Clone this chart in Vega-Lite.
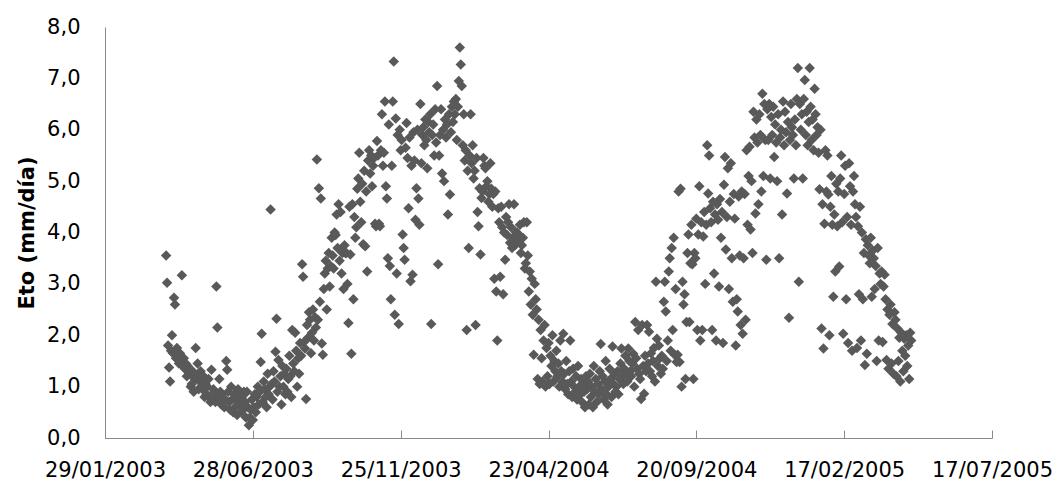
{
"$schema": "https://vega.github.io/schema/vega-lite/v6.json",
"width": 887, "height": 411,
"autosize": {"type": "none"},
"padding": {"left": 105, "top": 27, "right": 66, "bottom": 47},
"background": "white",
"config": {"view": {"stroke": null}, "font": "DejaVu Sans"},
"data": {"values": [
{"d":"2003-04-01","v":3.55},{"d":"2003-04-02","v":3.02},{"d":"2003-04-03","v":1.8},{"d":"2003-04-04","v":1.37},{"d":"2003-04-05","v":1.1},{"d":"2003-04-06","v":1.7},{"d":"2003-04-07","v":2.0},{"d":"2003-04-08","v":1.65},{"d":"2003-04-09","v":2.73},{"d":"2003-04-10","v":2.6},{"d":"2003-04-11","v":1.55},{"d":"2003-04-12","v":1.75},{"d":"2003-04-13","v":1.6},{"d":"2003-04-14","v":1.45},{"d":"2003-04-15","v":1.65},{"d":"2003-04-16","v":1.5},{"d":"2003-04-17","v":3.17},{"d":"2003-04-18","v":1.4},{"d":"2003-04-19","v":1.55},{"d":"2003-04-20","v":1.35},{"d":"2003-04-21","v":1.45},{"d":"2003-04-22","v":1.2},{"d":"2003-04-23","v":1.4},{"d":"2003-04-24","v":1.3},{"d":"2003-04-25","v":1.25},{"d":"2003-04-26","v":1.0},{"d":"2003-04-27","v":1.05},{"d":"2003-04-28","v":1.3},{"d":"2003-04-29","v":0.9},{"d":"2003-04-30","v":1.15},
{"d":"2003-05-01","v":1.75},{"d":"2003-05-02","v":1.2},{"d":"2003-05-03","v":1.45},{"d":"2003-05-04","v":0.95},{"d":"2003-05-05","v":1.1},{"d":"2003-05-06","v":1.3},{"d":"2003-05-07","v":1.0},{"d":"2003-05-08","v":0.95},{"d":"2003-05-09","v":1.2},{"d":"2003-05-10","v":0.8},{"d":"2003-05-11","v":1.05},{"d":"2003-05-12","v":0.85},{"d":"2003-05-13","v":1.0},{"d":"2003-05-14","v":1.15},{"d":"2003-05-15","v":0.8},{"d":"2003-05-16","v":0.7},{"d":"2003-05-17","v":1.33},{"d":"2003-05-18","v":0.75},{"d":"2003-05-19","v":0.95},{"d":"2003-05-20","v":0.9},{"d":"2003-05-21","v":0.7},{"d":"2003-05-22","v":2.95},{"d":"2003-05-23","v":2.15},{"d":"2003-05-24","v":0.8},{"d":"2003-05-25","v":1.15},{"d":"2003-05-26","v":0.9},{"d":"2003-05-27","v":0.65},{"d":"2003-05-28","v":0.85},{"d":"2003-05-29","v":0.7},{"d":"2003-05-30","v":0.6},{"d":"2003-05-31","v":0.75},
{"d":"2003-06-01","v":1.5},{"d":"2003-06-02","v":1.33},{"d":"2003-06-03","v":0.9},{"d":"2003-06-04","v":0.7},{"d":"2003-06-05","v":0.55},{"d":"2003-06-06","v":1.0},{"d":"2003-06-07","v":0.75},{"d":"2003-06-08","v":0.5},{"d":"2003-06-09","v":0.85},{"d":"2003-06-10","v":0.6},{"d":"2003-06-11","v":0.75},{"d":"2003-06-12","v":0.45},{"d":"2003-06-13","v":0.95},{"d":"2003-06-14","v":0.65},{"d":"2003-06-15","v":0.8},{"d":"2003-06-16","v":0.5},{"d":"2003-06-17","v":0.8},{"d":"2003-06-18","v":0.55},{"d":"2003-06-19","v":0.9},{"d":"2003-06-20","v":0.7},{"d":"2003-06-21","v":0.4},{"d":"2003-06-22","v":0.9},{"d":"2003-06-23","v":0.6},{"d":"2003-06-24","v":0.25},{"d":"2003-06-25","v":0.4},{"d":"2003-06-26","v":0.55},{"d":"2003-06-27","v":0.75},{"d":"2003-06-28","v":0.35},{"d":"2003-06-29","v":0.6},{"d":"2003-06-30","v":0.85},
{"d":"2003-07-01","v":0.5},{"d":"2003-07-02","v":0.8},{"d":"2003-07-03","v":1.0},{"d":"2003-07-04","v":0.65},{"d":"2003-07-05","v":0.9},{"d":"2003-07-06","v":1.48},{"d":"2003-07-07","v":2.03},{"d":"2003-07-08","v":0.7},{"d":"2003-07-09","v":1.1},{"d":"2003-07-10","v":0.95},{"d":"2003-07-11","v":0.8},{"d":"2003-07-12","v":0.6},{"d":"2003-07-13","v":1.25},{"d":"2003-07-14","v":0.85},{"d":"2003-07-15","v":1.0},{"d":"2003-07-16","v":4.45},{"d":"2003-07-17","v":1.05},{"d":"2003-07-18","v":0.75},{"d":"2003-07-19","v":1.3},{"d":"2003-07-20","v":1.1},{"d":"2003-07-21","v":1.68},{"d":"2003-07-22","v":2.32},{"d":"2003-07-23","v":0.9},{"d":"2003-07-24","v":1.52},{"d":"2003-07-25","v":1.0},{"d":"2003-07-26","v":1.2},{"d":"2003-07-27","v":0.65},{"d":"2003-07-28","v":1.4},{"d":"2003-07-29","v":1.0},{"d":"2003-07-30","v":1.25},{"d":"2003-07-31","v":0.85},
{"d":"2003-08-01","v":1.35},{"d":"2003-08-02","v":0.9},{"d":"2003-08-03","v":1.15},{"d":"2003-08-04","v":1.6},{"d":"2003-08-05","v":1.2},{"d":"2003-08-06","v":0.8},{"d":"2003-08-07","v":2.1},{"d":"2003-08-08","v":1.45},{"d":"2003-08-09","v":1.3},{"d":"2003-08-10","v":2.05},{"d":"2003-08-11","v":1.7},{"d":"2003-08-12","v":1.0},{"d":"2003-08-13","v":1.55},{"d":"2003-08-14","v":1.25},{"d":"2003-08-15","v":1.85},{"d":"2003-08-16","v":1.6},{"d":"2003-08-17","v":3.38},{"d":"2003-08-18","v":3.14},{"d":"2003-08-19","v":1.87},{"d":"2003-08-20","v":1.74},{"d":"2003-08-21","v":0.76},{"d":"2003-08-22","v":2.2},{"d":"2003-08-23","v":1.95},{"d":"2003-08-24","v":2.45},{"d":"2003-08-25","v":2.3},{"d":"2003-08-26","v":1.65},{"d":"2003-08-27","v":2.05},{"d":"2003-08-28","v":2.5},{"d":"2003-08-29","v":1.9},{"d":"2003-08-30","v":2.35},{"d":"2003-08-31","v":2.15},
{"d":"2003-09-01","v":5.42},{"d":"2003-09-02","v":2.3},{"d":"2003-09-03","v":4.86},{"d":"2003-09-04","v":2.65},{"d":"2003-09-05","v":4.66},{"d":"2003-09-06","v":1.84},{"d":"2003-09-07","v":1.62},{"d":"2003-09-08","v":2.9},{"d":"2003-09-09","v":3.2},{"d":"2003-09-10","v":3.45},{"d":"2003-09-11","v":2.5},{"d":"2003-09-12","v":3.3},{"d":"2003-09-13","v":3.6},{"d":"2003-09-14","v":2.95},{"d":"2003-09-15","v":3.35},{"d":"2003-09-16","v":3.9},{"d":"2003-09-17","v":3.55},{"d":"2003-09-18","v":3.3},{"d":"2003-09-19","v":4.0},{"d":"2003-09-20","v":3.95},{"d":"2003-09-21","v":4.35},{"d":"2003-09-22","v":3.7},{"d":"2003-09-23","v":4.55},{"d":"2003-09-24","v":3.45},{"d":"2003-09-25","v":4.4},{"d":"2003-09-26","v":3.2},{"d":"2003-09-27","v":3.6},{"d":"2003-09-28","v":2.9},{"d":"2003-09-29","v":3.75},{"d":"2003-09-30","v":3.6},
{"d":"2003-10-01","v":3.6},{"d":"2003-10-02","v":3.0},{"d":"2003-10-03","v":2.24},{"d":"2003-10-04","v":4.5},{"d":"2003-10-05","v":3.57},{"d":"2003-10-06","v":1.64},{"d":"2003-10-07","v":4.55},{"d":"2003-10-08","v":2.7},{"d":"2003-10-09","v":4.3},{"d":"2003-10-10","v":3.9},{"d":"2003-10-11","v":4.1},{"d":"2003-10-12","v":4.85},{"d":"2003-10-13","v":5.05},{"d":"2003-10-14","v":5.55},{"d":"2003-10-15","v":4.6},{"d":"2003-10-16","v":4.2},{"d":"2003-10-17","v":4.95},{"d":"2003-10-18","v":3.77},{"d":"2003-10-19","v":5.2},{"d":"2003-10-20","v":3.73},{"d":"2003-10-21","v":4.8},{"d":"2003-10-22","v":3.24},{"d":"2003-10-23","v":5.4},{"d":"2003-10-24","v":5.6},{"d":"2003-10-25","v":5.15},{"d":"2003-10-26","v":5.5},{"d":"2003-10-27","v":4.9},{"d":"2003-10-28","v":5.3},{"d":"2003-10-29","v":5.45},{"d":"2003-10-30","v":4.17},{"d":"2003-10-31","v":4.12},
{"d":"2003-11-01","v":5.78},{"d":"2003-11-02","v":5.5},{"d":"2003-11-03","v":4.17},{"d":"2003-11-04","v":4.12},{"d":"2003-11-05","v":5.6},{"d":"2003-11-06","v":6.3},{"d":"2003-11-07","v":5.3},{"d":"2003-11-08","v":5.55},{"d":"2003-11-09","v":6.55},{"d":"2003-11-10","v":4.9},{"d":"2003-11-11","v":4.66},{"d":"2003-11-12","v":3.5},{"d":"2003-11-13","v":6.1},{"d":"2003-11-14","v":3.35},{"d":"2003-11-15","v":2.7},{"d":"2003-11-16","v":5.3},{"d":"2003-11-17","v":6.55},{"d":"2003-11-18","v":7.33},{"d":"2003-11-19","v":2.4},{"d":"2003-11-20","v":6.22},{"d":"2003-11-21","v":3.2},{"d":"2003-11-22","v":5.9},{"d":"2003-11-23","v":2.22},{"d":"2003-11-24","v":6.0},{"d":"2003-11-25","v":5.6},{"d":"2003-11-26","v":5.8},{"d":"2003-11-27","v":3.96},{"d":"2003-11-28","v":3.7},{"d":"2003-11-29","v":3.47},{"d":"2003-11-30","v":5.65},
{"d":"2003-12-01","v":6.13},{"d":"2003-12-02","v":5.45},{"d":"2003-12-03","v":4.47},{"d":"2003-12-04","v":5.85},{"d":"2003-12-05","v":3.05},{"d":"2003-12-06","v":5.3},{"d":"2003-12-07","v":3.18},{"d":"2003-12-08","v":5.95},{"d":"2003-12-09","v":5.4},{"d":"2003-12-10","v":4.25},{"d":"2003-12-11","v":4.86},{"d":"2003-12-12","v":6.0},{"d":"2003-12-13","v":4.66},{"d":"2003-12-14","v":4.15},{"d":"2003-12-15","v":6.5},{"d":"2003-12-16","v":5.35},{"d":"2003-12-17","v":5.9},{"d":"2003-12-18","v":6.05},{"d":"2003-12-19","v":5.7},{"d":"2003-12-20","v":6.2},{"d":"2003-12-21","v":5.8},{"d":"2003-12-22","v":5.25},{"d":"2003-12-23","v":6.15},{"d":"2003-12-24","v":5.95},{"d":"2003-12-25","v":6.3},{"d":"2003-12-26","v":2.22},{"d":"2003-12-27","v":5.9},{"d":"2003-12-28","v":6.1},{"d":"2003-12-29","v":5.5},{"d":"2003-12-30","v":6.4},{"d":"2003-12-31","v":5.75},
{"d":"2004-01-01","v":6.85},{"d":"2004-01-02","v":3.38},{"d":"2004-01-03","v":5.5},{"d":"2004-01-04","v":5.9},{"d":"2004-01-05","v":6.4},{"d":"2004-01-06","v":5.15},{"d":"2004-01-07","v":6.0},{"d":"2004-01-08","v":5.0},{"d":"2004-01-09","v":6.2},{"d":"2004-01-10","v":5.85},{"d":"2004-01-11","v":6.1},{"d":"2004-01-12","v":4.35},{"d":"2004-01-13","v":6.3},{"d":"2004-01-14","v":4.74},{"d":"2004-01-15","v":5.95},{"d":"2004-01-16","v":6.45},{"d":"2004-01-17","v":6.15},{"d":"2004-01-18","v":6.55},{"d":"2004-01-19","v":6.3},{"d":"2004-01-20","v":6.6},{"d":"2004-01-21","v":5.8},{"d":"2004-01-22","v":6.45},{"d":"2004-01-23","v":6.95},{"d":"2004-01-24","v":7.6},{"d":"2004-01-25","v":7.27},{"d":"2004-01-26","v":6.85},{"d":"2004-01-27","v":5.7},{"d":"2004-01-28","v":6.3},{"d":"2004-01-29","v":5.4},{"d":"2004-01-30","v":5.6},{"d":"2004-01-31","v":2.1},
{"d":"2004-02-01","v":5.2},{"d":"2004-02-02","v":3.7},{"d":"2004-02-03","v":5.5},{"d":"2004-02-04","v":6.3},{"d":"2004-02-05","v":5.35},{"d":"2004-02-06","v":5.7},{"d":"2004-02-07","v":5.05},{"d":"2004-02-08","v":5.2},{"d":"2004-02-09","v":2.2},{"d":"2004-02-10","v":5.45},{"d":"2004-02-11","v":4.4},{"d":"2004-02-12","v":4.12},{"d":"2004-02-13","v":4.86},{"d":"2004-02-14","v":3.57},{"d":"2004-02-15","v":4.67},{"d":"2004-02-16","v":4.8},{"d":"2004-02-17","v":5.45},{"d":"2004-02-18","v":5.3},{"d":"2004-02-19","v":5.25},{"d":"2004-02-20","v":4.9},{"d":"2004-02-21","v":5.0},{"d":"2004-02-22","v":4.6},{"d":"2004-02-23","v":4.75},{"d":"2004-02-24","v":5.35},{"d":"2004-02-25","v":4.85},{"d":"2004-02-26","v":4.5},{"d":"2004-02-27","v":4.75},{"d":"2004-02-28","v":3.1},{"d":"2004-02-29","v":4.8},
{"d":"2004-03-01","v":2.85},{"d":"2004-03-02","v":1.9},{"d":"2004-03-03","v":4.47},{"d":"2004-03-04","v":4.2},{"d":"2004-03-05","v":3.14},{"d":"2004-03-06","v":4.5},{"d":"2004-03-07","v":4.1},{"d":"2004-03-08","v":2.8},{"d":"2004-03-09","v":4.0},{"d":"2004-03-10","v":3.47},{"d":"2004-03-11","v":4.3},{"d":"2004-03-12","v":3.95},{"d":"2004-03-13","v":4.2},{"d":"2004-03-14","v":4.55},{"d":"2004-03-15","v":3.8},{"d":"2004-03-16","v":4.1},{"d":"2004-03-17","v":3.7},{"d":"2004-03-18","v":3.9},{"d":"2004-03-19","v":4.55},{"d":"2004-03-20","v":3.75},{"d":"2004-03-21","v":4.0},{"d":"2004-03-22","v":4.0},{"d":"2004-03-23","v":3.85},{"d":"2004-03-24","v":3.95},{"d":"2004-03-25","v":4.15},{"d":"2004-03-26","v":3.6},{"d":"2004-03-27","v":3.75},{"d":"2004-03-28","v":3.9},{"d":"2004-03-29","v":4.2},{"d":"2004-03-30","v":3.3},{"d":"2004-03-31","v":3.4},
{"d":"2004-04-01","v":4.2},{"d":"2004-04-02","v":3.55},{"d":"2004-04-03","v":2.85},{"d":"2004-04-04","v":3.24},{"d":"2004-04-05","v":2.6},{"d":"2004-04-06","v":3.1},{"d":"2004-04-07","v":2.4},{"d":"2004-04-08","v":1.62},{"d":"2004-04-09","v":3.0},{"d":"2004-04-10","v":2.7},{"d":"2004-04-11","v":2.5},{"d":"2004-04-12","v":1.15},{"d":"2004-04-13","v":2.3},{"d":"2004-04-14","v":1.05},{"d":"2004-04-15","v":2.1},{"d":"2004-04-16","v":1.55},{"d":"2004-04-17","v":1.1},{"d":"2004-04-18","v":1.9},{"d":"2004-04-19","v":2.2},{"d":"2004-04-20","v":1.0},{"d":"2004-04-21","v":1.75},{"d":"2004-04-22","v":1.2},{"d":"2004-04-23","v":1.85},{"d":"2004-04-24","v":1.05},{"d":"2004-04-25","v":1.6},{"d":"2004-04-26","v":1.4},{"d":"2004-04-27","v":2.0},{"d":"2004-04-28","v":1.1},{"d":"2004-04-29","v":1.5},{"d":"2004-04-30","v":1.3},
{"d":"2004-05-01","v":1.7},{"d":"2004-05-02","v":1.2},{"d":"2004-05-03","v":1.45},{"d":"2004-05-04","v":1.0},{"d":"2004-05-05","v":1.9},{"d":"2004-05-06","v":1.3},{"d":"2004-05-07","v":1.1},{"d":"2004-05-08","v":2.03},{"d":"2004-05-09","v":1.25},{"d":"2004-05-10","v":0.95},{"d":"2004-05-11","v":1.5},{"d":"2004-05-12","v":1.05},{"d":"2004-05-13","v":0.85},{"d":"2004-05-14","v":1.3},{"d":"2004-05-15","v":1.9},{"d":"2004-05-16","v":1.1},{"d":"2004-05-17","v":0.8},{"d":"2004-05-18","v":1.35},{"d":"2004-05-19","v":1.0},{"d":"2004-05-20","v":0.9},{"d":"2004-05-21","v":1.2},{"d":"2004-05-22","v":0.75},{"d":"2004-05-23","v":1.4},{"d":"2004-05-24","v":1.0},{"d":"2004-05-25","v":0.85},{"d":"2004-05-26","v":1.15},{"d":"2004-05-27","v":0.7},{"d":"2004-05-28","v":1.05},{"d":"2004-05-29","v":0.9},{"d":"2004-05-30","v":0.6},{"d":"2004-05-31","v":1.2},
{"d":"2004-06-01","v":0.95},{"d":"2004-06-02","v":1.1},{"d":"2004-06-03","v":0.65},{"d":"2004-06-04","v":1.25},{"d":"2004-06-05","v":0.8},{"d":"2004-06-06","v":1.0},{"d":"2004-06-07","v":0.6},{"d":"2004-06-08","v":1.4},{"d":"2004-06-09","v":0.9},{"d":"2004-06-10","v":1.15},{"d":"2004-06-11","v":0.7},{"d":"2004-06-12","v":1.05},{"d":"2004-06-13","v":0.85},{"d":"2004-06-14","v":1.3},{"d":"2004-06-15","v":1.83},{"d":"2004-06-16","v":0.95},{"d":"2004-06-17","v":1.2},{"d":"2004-06-18","v":0.75},{"d":"2004-06-19","v":1.1},{"d":"2004-06-20","v":1.5},{"d":"2004-06-21","v":0.85},{"d":"2004-06-22","v":0.65},{"d":"2004-06-23","v":1.0},{"d":"2004-06-24","v":1.35},{"d":"2004-06-25","v":1.15},{"d":"2004-06-26","v":0.8},{"d":"2004-06-27","v":1.78},{"d":"2004-06-28","v":1.05},{"d":"2004-06-29","v":1.25},{"d":"2004-06-30","v":0.9},
{"d":"2004-07-01","v":1.0},{"d":"2004-07-02","v":1.3},{"d":"2004-07-03","v":0.85},{"d":"2004-07-04","v":1.15},{"d":"2004-07-05","v":1.45},{"d":"2004-07-06","v":1.74},{"d":"2004-07-07","v":1.2},{"d":"2004-07-08","v":1.05},{"d":"2004-07-09","v":1.35},{"d":"2004-07-10","v":1.6},{"d":"2004-07-11","v":1.25},{"d":"2004-07-12","v":1.1},{"d":"2004-07-13","v":1.74},{"d":"2004-07-14","v":1.5},{"d":"2004-07-15","v":1.3},{"d":"2004-07-16","v":1.2},{"d":"2004-07-17","v":1.45},{"d":"2004-07-18","v":1.64},{"d":"2004-07-19","v":1.0},{"d":"2004-07-20","v":2.26},{"d":"2004-07-21","v":1.55},{"d":"2004-07-22","v":1.35},{"d":"2004-07-23","v":2.1},{"d":"2004-07-24","v":1.25},{"d":"2004-07-25","v":1.15},{"d":"2004-07-26","v":0.76},{"d":"2004-07-27","v":2.2},{"d":"2004-07-28","v":1.4},{"d":"2004-07-29","v":0.86},{"d":"2004-07-30","v":1.6},{"d":"2004-07-31","v":1.3},
{"d":"2004-08-01","v":2.2},{"d":"2004-08-02","v":1.45},{"d":"2004-08-03","v":2.07},{"d":"2004-08-04","v":1.3},{"d":"2004-08-05","v":1.65},{"d":"2004-08-06","v":1.2},{"d":"2004-08-07","v":1.5},{"d":"2004-08-08","v":1.75},{"d":"2004-08-09","v":1.1},{"d":"2004-08-10","v":3.04},{"d":"2004-08-11","v":1.93},{"d":"2004-08-12","v":1.4},{"d":"2004-08-13","v":1.8},{"d":"2004-08-14","v":1.55},{"d":"2004-08-15","v":1.25},{"d":"2004-08-16","v":1.6},{"d":"2004-08-17","v":1.35},{"d":"2004-08-18","v":2.65},{"d":"2004-08-19","v":3.04},{"d":"2004-08-20","v":2.46},{"d":"2004-08-21","v":1.5},{"d":"2004-08-22","v":1.9},{"d":"2004-08-23","v":3.24},{"d":"2004-08-24","v":3.5},{"d":"2004-08-25","v":1.7},{"d":"2004-08-26","v":3.7},{"d":"2004-08-27","v":2.1},{"d":"2004-08-28","v":3.9},{"d":"2004-08-29","v":1.62},{"d":"2004-08-30","v":2.9},{"d":"2004-08-31","v":1.48},
{"d":"2004-09-01","v":1.62},{"d":"2004-09-02","v":4.8},{"d":"2004-09-03","v":1.48},{"d":"2004-09-04","v":4.85},{"d":"2004-09-05","v":1.0},{"d":"2004-09-06","v":3.04},{"d":"2004-09-07","v":2.6},{"d":"2004-09-08","v":2.8},{"d":"2004-09-09","v":1.15},{"d":"2004-09-10","v":2.26},{"d":"2004-09-11","v":3.6},{"d":"2004-09-12","v":3.96},{"d":"2004-09-13","v":2.26},{"d":"2004-09-14","v":3.4},{"d":"2004-09-15","v":4.15},{"d":"2004-09-16","v":3.38},{"d":"2004-09-17","v":1.15},{"d":"2004-09-18","v":3.6},{"d":"2004-09-19","v":3.5},{"d":"2004-09-20","v":4.27},{"d":"2004-09-21","v":2.1},{"d":"2004-09-22","v":3.96},{"d":"2004-09-23","v":4.9},{"d":"2004-09-24","v":1.9},{"d":"2004-09-25","v":4.2},{"d":"2004-09-26","v":2.1},{"d":"2004-09-27","v":3.92},{"d":"2004-09-28","v":4.4},{"d":"2004-09-29","v":3.0},{"d":"2004-09-30","v":4.15},
{"d":"2004-10-01","v":5.7},{"d":"2004-10-02","v":4.76},{"d":"2004-10-03","v":5.5},{"d":"2004-10-04","v":4.47},{"d":"2004-10-05","v":4.2},{"d":"2004-10-06","v":2.1},{"d":"2004-10-07","v":4.6},{"d":"2004-10-08","v":3.2},{"d":"2004-10-09","v":4.35},{"d":"2004-10-10","v":1.9},{"d":"2004-10-11","v":4.55},{"d":"2004-10-12","v":4.25},{"d":"2004-10-13","v":2.95},{"d":"2004-10-14","v":4.65},{"d":"2004-10-15","v":3.9},{"d":"2004-10-16","v":4.4},{"d":"2004-10-17","v":1.85},{"d":"2004-10-18","v":4.93},{"d":"2004-10-19","v":5.47},{"d":"2004-10-20","v":3.67},{"d":"2004-10-21","v":4.3},{"d":"2004-10-22","v":5.25},{"d":"2004-10-23","v":2.9},{"d":"2004-10-24","v":4.6},{"d":"2004-10-25","v":5.35},{"d":"2004-10-26","v":3.5},{"d":"2004-10-27","v":2.65},{"d":"2004-10-28","v":4.75},{"d":"2004-10-29","v":4.27},{"d":"2004-10-30","v":1.8},{"d":"2004-10-31","v":2.7},
{"d":"2004-11-01","v":2.46},{"d":"2004-11-02","v":4.7},{"d":"2004-11-03","v":3.55},{"d":"2004-11-04","v":2.2},{"d":"2004-11-05","v":4.8},{"d":"2004-11-06","v":2.03},{"d":"2004-11-07","v":3.5},{"d":"2004-11-08","v":4.75},{"d":"2004-11-09","v":2.3},{"d":"2004-11-10","v":5.6},{"d":"2004-11-11","v":4.15},{"d":"2004-11-12","v":5.1},{"d":"2004-11-13","v":5.67},{"d":"2004-11-14","v":4.06},{"d":"2004-11-15","v":5.0},{"d":"2004-11-16","v":3.6},{"d":"2004-11-17","v":6.35},{"d":"2004-11-18","v":5.85},{"d":"2004-11-19","v":4.37},{"d":"2004-11-20","v":6.2},{"d":"2004-11-21","v":5.75},{"d":"2004-11-22","v":4.55},{"d":"2004-11-23","v":6.3},{"d":"2004-11-24","v":5.9},{"d":"2004-11-25","v":4.8},{"d":"2004-11-26","v":6.7},{"d":"2004-11-27","v":5.1},{"d":"2004-11-28","v":6.5},{"d":"2004-11-29","v":5.8},{"d":"2004-11-30","v":3.47},
{"d":"2004-12-01","v":6.4},{"d":"2004-12-02","v":5.8},{"d":"2004-12-03","v":6.5},{"d":"2004-12-04","v":5.05},{"d":"2004-12-05","v":6.25},{"d":"2004-12-06","v":5.9},{"d":"2004-12-07","v":6.45},{"d":"2004-12-08","v":5.47},{"d":"2004-12-09","v":6.1},{"d":"2004-12-10","v":5.75},{"d":"2004-12-11","v":5.0},{"d":"2004-12-12","v":6.3},{"d":"2004-12-13","v":3.5},{"d":"2004-12-14","v":5.85},{"d":"2004-12-15","v":6.0},{"d":"2004-12-16","v":4.35},{"d":"2004-12-17","v":6.55},{"d":"2004-12-18","v":5.7},{"d":"2004-12-19","v":6.35},{"d":"2004-12-20","v":5.95},{"d":"2004-12-21","v":4.76},{"d":"2004-12-22","v":6.15},{"d":"2004-12-23","v":2.34},{"d":"2004-12-24","v":5.8},{"d":"2004-12-25","v":6.5},{"d":"2004-12-26","v":6.05},{"d":"2004-12-27","v":5.9},{"d":"2004-12-28","v":5.05},{"d":"2004-12-29","v":6.2},{"d":"2004-12-30","v":5.7},{"d":"2004-12-31","v":6.6},
{"d":"2005-01-01","v":7.2},{"d":"2005-01-02","v":3.04},{"d":"2005-01-03","v":6.5},{"d":"2005-01-04","v":6.0},{"d":"2005-01-05","v":6.3},{"d":"2005-01-06","v":5.05},{"d":"2005-01-07","v":6.6},{"d":"2005-01-08","v":6.97},{"d":"2005-01-09","v":5.9},{"d":"2005-01-10","v":6.35},{"d":"2005-01-11","v":5.7},{"d":"2005-01-12","v":6.15},{"d":"2005-01-13","v":7.2},{"d":"2005-01-14","v":6.45},{"d":"2005-01-15","v":5.8},{"d":"2005-01-16","v":6.2},{"d":"2005-01-17","v":5.6},{"d":"2005-01-18","v":6.8},{"d":"2005-01-19","v":6.3},{"d":"2005-01-20","v":5.9},{"d":"2005-01-21","v":6.05},{"d":"2005-01-22","v":5.55},{"d":"2005-01-23","v":4.84},{"d":"2005-01-24","v":6.0},{"d":"2005-01-25","v":2.13},{"d":"2005-01-26","v":4.55},{"d":"2005-01-27","v":1.74},{"d":"2005-01-28","v":4.17},{"d":"2005-01-29","v":5.6},{"d":"2005-01-30","v":4.8},{"d":"2005-01-31","v":5.5},
{"d":"2005-02-01","v":4.74},{"d":"2005-02-02","v":2.0},{"d":"2005-02-03","v":4.5},{"d":"2005-02-04","v":5.1},{"d":"2005-02-05","v":4.15},{"d":"2005-02-06","v":2.75},{"d":"2005-02-07","v":4.35},{"d":"2005-02-08","v":3.24},{"d":"2005-02-09","v":4.95},{"d":"2005-02-10","v":4.12},{"d":"2005-02-11","v":4.8},{"d":"2005-02-12","v":3.34},{"d":"2005-02-13","v":5.05},{"d":"2005-02-14","v":5.5},{"d":"2005-02-15","v":4.2},{"d":"2005-02-16","v":2.03},{"d":"2005-02-17","v":4.75},{"d":"2005-02-18","v":5.3},{"d":"2005-02-19","v":2.7},{"d":"2005-02-20","v":4.3},{"d":"2005-02-21","v":1.85},{"d":"2005-02-22","v":5.35},{"d":"2005-02-23","v":4.9},{"d":"2005-02-24","v":4.15},{"d":"2005-02-25","v":1.7},{"d":"2005-02-26","v":4.8},{"d":"2005-02-27","v":5.1},{"d":"2005-02-28","v":4.55},
{"d":"2005-03-01","v":4.3},{"d":"2005-03-02","v":1.75},{"d":"2005-03-03","v":4.12},{"d":"2005-03-04","v":2.8},{"d":"2005-03-05","v":4.5},{"d":"2005-03-06","v":1.9},{"d":"2005-03-07","v":4.0},{"d":"2005-03-08","v":2.7},{"d":"2005-03-09","v":3.6},{"d":"2005-03-10","v":1.42},{"d":"2005-03-11","v":3.87},{"d":"2005-03-12","v":1.64},{"d":"2005-03-13","v":3.75},{"d":"2005-03-14","v":3.55},{"d":"2005-03-15","v":3.4},{"d":"2005-03-16","v":3.9},{"d":"2005-03-17","v":2.75},{"d":"2005-03-18","v":3.65},{"d":"2005-03-19","v":3.5},{"d":"2005-03-20","v":2.9},{"d":"2005-03-21","v":3.35},{"d":"2005-03-22","v":1.5},{"d":"2005-03-23","v":3.7},{"d":"2005-03-24","v":1.9},{"d":"2005-03-25","v":3.2},{"d":"2005-03-26","v":3.0},{"d":"2005-03-27","v":3.24},{"d":"2005-03-28","v":1.87},{"d":"2005-03-29","v":2.95},{"d":"2005-03-30","v":3.18},{"d":"2005-03-31","v":2.7},
{"d":"2005-04-01","v":1.52},{"d":"2005-04-02","v":2.5},{"d":"2005-04-03","v":1.35},{"d":"2005-04-04","v":2.4},{"d":"2005-04-05","v":2.6},{"d":"2005-04-06","v":1.45},{"d":"2005-04-07","v":2.22},{"d":"2005-04-08","v":1.25},{"d":"2005-04-09","v":2.45},{"d":"2005-04-10","v":2.3},{"d":"2005-04-11","v":1.2},{"d":"2005-04-12","v":2.13},{"d":"2005-04-13","v":1.5},{"d":"2005-04-14","v":1.95},{"d":"2005-04-15","v":1.1},{"d":"2005-04-16","v":2.05},{"d":"2005-04-17","v":1.7},{"d":"2005-04-18","v":1.3},{"d":"2005-04-19","v":1.93},{"d":"2005-04-20","v":1.6},{"d":"2005-04-21","v":2.0},{"d":"2005-04-22","v":1.4},{"d":"2005-04-23","v":1.8},{"d":"2005-04-24","v":1.15},{"d":"2005-04-25","v":2.05},{"d":"2005-04-26","v":1.9}
]},
"mark": {"type": "point", "shape": "diamond", "filled": true, "size": 110, "color": "#595959", "opacity": 1},
"encoding": {
  "x": {"field": "d", "type": "temporal",
    "scale": {"type": "utc", "nice": false, "domain": [{"year": 2003, "month": 1, "date": 29, "utc": true}, {"year": 2005, "month": 7, "date": 17, "utc": true}]},
    "axis": {"title": null, "grid": false,
      "values": [{"year": 2003, "month": 1, "date": 29, "utc": true}, {"year": 2003, "month": 6, "date": 28, "utc": true}, {"year": 2003, "month": 11, "date": 25, "utc": true}, {"year": 2004, "month": 4, "date": 23, "utc": true}, {"year": 2004, "month": 9, "date": 20, "utc": true}, {"year": 2005, "month": 2, "date": 17, "utc": true}, {"year": 2005, "month": 7, "date": 17, "utc": true}],
      "labelExpr": "utcFormat(datum.value, '%d/%m/%Y')",
      "domainColor": "#898989", "tickColor": "#898989", "tickSize": -8, "labelPadding": 29,
      "labelFont": "DejaVu Sans", "labelFontSize": 21, "labelColor": "#000000", "labelOverlap": false, "labelFlush": false}},
  "y": {"field": "v", "type": "quantitative",
    "scale": {"domain": [0, 8], "nice": false},
    "axis": {"values": [0, 1, 2, 3, 4, 5, 6, 7, 8], "labelExpr": "replace(format(datum.value, '.1f'), '.', ',')",
      "ticks": false, "grid": false, "domainColor": "#898989", "labelPadding": 25,
      "labelFont": "DejaVu Sans", "labelFontSize": 21, "labelColor": "#000000",
      "title": "Eto (mm/día)", "titleFont": "DejaVu Sans", "titleFontSize": 21, "titleFontWeight": "bold", "titleColor": "#000000", "titlePadding": 9}}
}
}
